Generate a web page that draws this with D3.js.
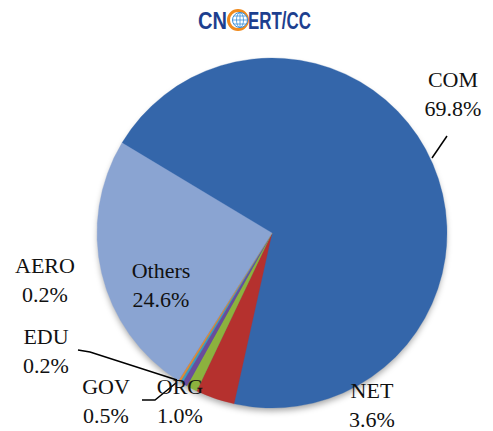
<!DOCTYPE html>
<html>
<head>
<meta charset="utf-8">
<script src="https://cdn.jsdelivr.net/npm/d3@7"></script>
<style>
  body { margin: 0; background: #fff; }
  text { font-family: "Liberation Serif", "Times New Roman", serif; }
</style>
</head>
<body>
<div id="chart"></div>
<script>
  // Domain shares (%)
  var categories = ["COM", "NET", "ORG", "GOV", "EDU", "AERO", "Others"];
  var values = [69.8, 3.6, 1.0, 0.5, 0.2, 0.2, 24.6];
  var colors = ["#3466aa", "#b5312e", "#8cb23e", "#6a4c9c", "#3a9cc0", "#e08a34", "#8aa4d2"];

  var width = 493, height = 431;
  var cx = 272, cy = 233, radius = 175;
  var startAngle = -59 * Math.PI / 180;

  // label anchor spots (x, first baseline, anchor)
  var labelPos = {
    COM:    [453, 87, "middle"],
    NET:    [372, 398, "middle"],
    ORG:    [180, 394, "middle"],
    GOV:    [106, 394, "middle"],
    EDU:    [46, 344, "middle"],
    AERO:   [45, 273, "middle"],
    Others: [161, 278, "middle"]
  };

  var svg = d3.select("#chart")
      .append("svg")
      .attr("width", width)
      .attr("height", height);

  var defs = svg.append("defs");
  var f = defs.append("filter").attr("id", "shadow")
      .attr("x", "-10%").attr("y", "-10%").attr("width", "120%").attr("height", "125%");
  f.append("feDropShadow")
      .attr("dx", 0).attr("dy", 4).attr("stdDeviation", 3)
      .attr("flood-color", "#000").attr("flood-opacity", 0.35);

  // Logo
  var logo = svg.append("g");
  logo.append("text")
      .attr("x", 198).attr("y", 29)
      .attr("textLength", 29).attr("lengthAdjust", "spacingAndGlyphs")
      .style("font-family", "Liberation Sans, Arial, sans-serif")
      .style("font-weight", "bold").style("font-size", "23px")
      .attr("fill", "#1d3f8f").text("CN");
  logo.append("circle").attr("cx", 238).attr("cy", 20).attr("r", 9.5)
      .attr("fill", "none").attr("stroke", "#f08a1c").attr("stroke-width", 3);
  logo.append("circle").attr("cx", 240).attr("cy", 20).attr("r", 7.5)
      .attr("fill", "#fff").attr("stroke", "#3a8fd8").attr("stroke-width", 1);
  var globe = logo.append("g").attr("stroke", "#3a8fd8").attr("stroke-width", 0.8).attr("fill", "none");
  globe.append("ellipse").attr("cx", 240).attr("cy", 20).attr("rx", 3.5).attr("ry", 7.5);
  globe.append("line").attr("x1", 232.5).attr("x2", 247.5).attr("y1", 20).attr("y2", 20);
  globe.append("line").attr("x1", 234).attr("x2", 246).attr("y1", 16).attr("y2", 16);
  globe.append("line").attr("x1", 234).attr("x2", 246).attr("y1", 24).attr("y2", 24);
  globe.append("line").attr("x1", 240).attr("x2", 240).attr("y1", 12.5).attr("y2", 27.5);
  logo.append("text")
      .attr("x", 248).attr("y", 29)
      .attr("textLength", 63).attr("lengthAdjust", "spacingAndGlyphs")
      .style("font-family", "Liberation Sans, Arial, sans-serif")
      .style("font-weight", "bold").style("font-size", "23px")
      .attr("fill", "#1d3f8f").text("ERT/CC");

  // Pie
  var data = categories.map(function(c, i) { return {name: c, value: values[i], color: colors[i]}; });

  var pie = d3.pie()
      .sort(null)
      .value(function(d) { return d.value; })
      .startAngle(startAngle)
      .endAngle(startAngle + 2 * Math.PI);

  var arc = d3.arc().innerRadius(0).outerRadius(radius);

  var g = svg.append("g")
      .attr("transform", `translate(${cx}, ${cy})`);

  g.append("circle").attr("r", radius - 1).attr("fill", "#3466aa").attr("filter", "url(#shadow)");

  g.selectAll(".slice")
      .data(pie(data))
      .enter().append("path")
      .attr("class", "slice")
      .attr("d", arc)
      .attr("fill", function(d) { return d.data.color; })
      .attr("stroke", function(d) { return d.data.color; })
      .attr("stroke-width", 0.3);

  // Leader lines
  var leaders = [
    [[432, 158], [447, 136]],
    [[78, 350], [90, 352], [177, 380]],
    [[142, 400], [155, 400], [176, 383]]
  ];
  svg.selectAll(".leader")
      .data(leaders)
      .enter().append("path")
      .attr("class", "leader")
      .attr("d", d3.line())
      .attr("fill", "none")
      .attr("stroke", "#000")
      .attr("stroke-width", 1.5);

  // Labels
  var labels = svg.selectAll(".label")
      .data(data)
      .enter().append("text")
      .attr("class", "label")
      .attr("text-anchor", function(d) { return labelPos[d.name][2]; })
      .style("font-size", "22px")
      .attr("fill", "#111");

  labels.append("tspan")
      .attr("x", function(d) { return labelPos[d.name][0]; })
      .attr("y", function(d) { return labelPos[d.name][1]; })
      .text(function(d) { return d.name; });
  labels.append("tspan")
      .attr("x", function(d) { return labelPos[d.name][0]; })
      .attr("y", function(d) { return labelPos[d.name][1] + 29; })
      .text(function(d) { return d.value.toFixed(1) + "%"; });
</script>
</body>
</html>
